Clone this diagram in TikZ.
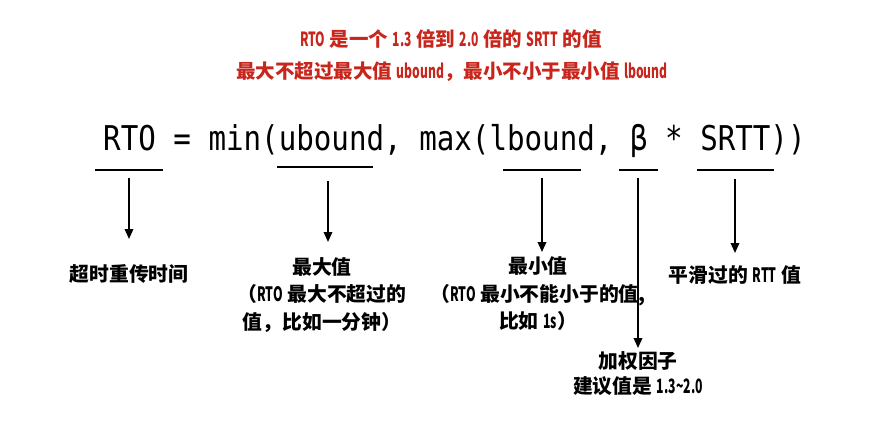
\documentclass[tikz,border=0pt]{standalone}
\usepackage{fontspec}
\usepackage{graphicx}
\usetikzlibrary{arrows.meta}
\setmainfont{Noto Sans CJK SC}
\setmonofont{DejaVu Sans Mono}
\newcommand\lat[1]{\scalebox{0.62}[1]{#1}}
\definecolor{titlered}{RGB}{200,38,28}
\begin{document}
\begin{tikzpicture}[x=1pt,y=-1pt,
  title/.style={font=\fontsize{19.5}{24}\selectfont\bfseries, text=titlered, inner sep=0},
  lab/.style={font=\fontsize{19.8}{27.5}\selectfont\bfseries, align=center, inner sep=0},
  uline/.style={line width=2.6pt},
  arr/.style={line width=1.8pt, -{Triangle[length=10pt,width=8.5pt]}}]
\useasboundingbox (0,0) rectangle (869,421);
% titles
\node[title] (t1) at (451,39) {\lat{RTO} 是一个 \lat{1.3} 倍到 \lat{2.0} 倍的 \lat{SRTT} 的值};
\node[title] (t2) at (452,72) {最大不超过最大值 \lat{ubound}，最小不小于最小值 \lat{lbound}};
% formula
\node[anchor=base west, inner sep=0, font=\fontsize{29.17}{35}\selectfont\ttfamily] (f) at (103,150)
  {\scalebox{1}[1.17]{RTO = min(ubound, max(lbound, β * SRTT))}};
% underlines
\coordinate (u1a) at (95,170);  \coordinate (u1b) at (163,170);
\coordinate (u2a) at (277,167); \coordinate (u2b) at (373,167);
\coordinate (u3a) at (503,170); \coordinate (u3b) at (581,170);
\coordinate (u4a) at (619,170); \coordinate (u4b) at (658,170);
\coordinate (u5a) at (697,170); \coordinate (u5b) at (774,170);
\draw[uline] (u1a) -- (u1b);
\draw[uline] (u2a) -- (u2b);
\draw[uline] (u3a) -- (u3b);
\draw[uline] (u4a) -- (u4b);
\draw[uline] (u5a) -- (u5b);
% labels
\node[lab] (l1) at (129,274) {超时重传时间};
\node[lab] (l2) at (322,295) {最大值\\（\lat{RTO} 最大不超过的\\值，比如一分钟）};
\node[lab] (l3) at (538,294) {最小值\\（\lat{RTO} 最小不能小于的值,\\比如 \lat{1s}）};
\node[lab] (l4) at (735,275) {平滑过的 \lat{RTT} 值};
\node[lab, font=\fontsize{19.8}{25}\selectfont\bfseries] (l5) at (638,374) {加权因子\\建议值是 \lat{1.3\textasciitilde 2.0}};
% arrows
\coordinate (a1s) at (129,178); \coordinate (a1e) at (129,239);
\coordinate (a2s) at (328,181); \coordinate (a2e) at (328,242);
\coordinate (a3s) at (542,178); \coordinate (a3e) at (542,252);
\coordinate (a4s) at (638,178); \coordinate (a4e) at (638,348);
\coordinate (a5s) at (735,179); \coordinate (a5e) at (735,253);
\draw[arr] (a1s) -- (a1e);
\draw[arr] (a2s) -- (a2e);
\draw[arr] (a3s) -- (a3e);
\draw[arr] (a4s) -- (a4e);
\draw[arr] (a5s) -- (a5e);
\end{tikzpicture}
\end{document}
